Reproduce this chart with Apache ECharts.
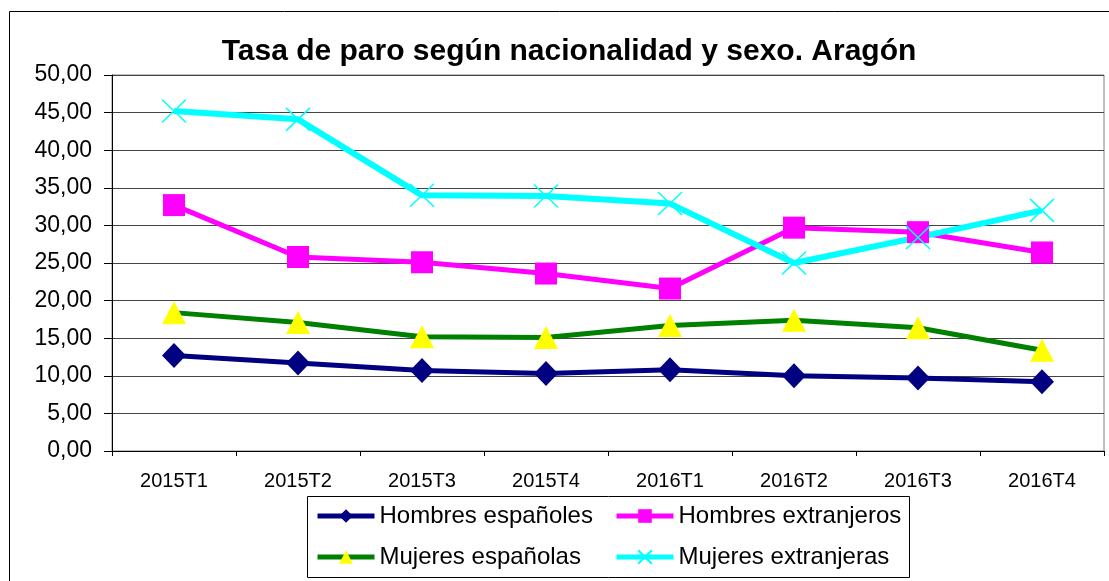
<!DOCTYPE html>
<html>
<head>
<meta charset="utf-8">
<script src="https://cdn.jsdelivr.net/npm/echarts@6/dist/echarts.min.js"></script>
<style>
html,body{margin:0;padding:0;background:#fff;}
#chart{width:1109px;height:581px;}
</style>
</head>
<body>
<div id="chart"></div>
<script>
const titleText = 'Tasa de paro según nacionalidad y sexo. Aragón';
const categories = ['2015T1','2015T2','2015T3','2015T4','2016T1','2016T2','2016T3','2016T4'];
const seriesNames = ['Hombres españoles','Hombres extranjeros','Mujeres españolas','Mujeres extranjeras'];
const hombresEspanoles = [12.7, 11.7, 10.7, 10.3, 10.8, 10.0, 9.7, 9.2];
const hombresExtranjeros = [32.7, 25.8, 25.1, 23.6, 21.6, 29.7, 29.1, 26.4];
const mujeresEspanolas = [18.4, 17.1, 15.2, 15.1, 16.7, 17.4, 16.4, 13.4];
const mujeresExtranjeras = [45.2, 44.1, 34.0, 33.9, 32.9, 25.0, 28.4, 32.0];
const yMin = 0, yMax = 50, yStep = 5;

const FONT = "'Liberation Sans', Arial, sans-serif";
const crossPath = 'path://M0,0L10,10M10,0L0,10';

const chart = echarts.init(document.getElementById('chart'), null, {renderer: 'canvas'});

function legendAt(name, left, top) {
  return {
    data: [name], left: left, top: top, padding: 0,
    itemWidth: 57, itemHeight: 17, itemGap: 0,
    lineStyle: {width: 5},
    textStyle: {fontFamily: FONT, fontSize: 24, color: '#000'}
  };
}

const option = {
  backgroundColor: '#fff',
  animation: false,
  title: {
    text: titleText, left: 564, top: 32, textAlign: 'center',
    textStyle: {fontFamily: FONT, fontSize: 30, fontWeight: 'bold', color: '#000'}
  },
  graphic: [
    {type: 'rect', shape: {x: 9.5, y: 11.5, width: 1120, height: 600}, style: {fill: 'none', stroke: '#000', lineWidth: 1}, z: -1},
    {type: 'rect', shape: {x: 307.5, y: 496.5, width: 602, height: 81}, style: {fill: '#fff', stroke: '#000', lineWidth: 1}, z: 0}
  ],
  legend: [
    legendAt(seriesNames[0], 315, 504),
    legendAt(seriesNames[1], 614, 504),
    legendAt(seriesNames[2], 315, 545),
    legendAt(seriesNames[3], 614, 545)
  ],
  grid: {left: 112, top: 75, width: 992, height: 376, show: true, borderColor: '#808080', borderWidth: 1, backgroundColor: '#fff'},
  xAxis: {
    type: 'category', data: categories, boundaryGap: true,
    axisLine: {lineStyle: {color: '#000', width: 1}},
    axisTick: {show: true, length: 5, lineStyle: {color: '#000'}},
    axisLabel: {fontFamily: FONT, fontSize: 20, color: '#000', margin: 20}
  },
  yAxis: {
    type: 'value', min: yMin, max: yMax, interval: yStep,
    axisLine: {show: true, lineStyle: {color: '#000', width: 1}},
    axisTick: {show: true, length: 8, lineStyle: {color: '#000'}},
    splitLine: {lineStyle: {color: '#444', width: 1}},
    axisLabel: {fontFamily: FONT, fontSize: 23, color: '#000', margin: 20,
      formatter: v => v.toFixed(2).replace('.', ',')}
  },
  series: [
    {name: seriesNames[0], type: 'line', data: hombresEspanoles, symbol: 'diamond', symbolSize: [24, 25],
      lineStyle: {color: '#000080', width: 5}, itemStyle: {color: '#000080'}},
    {name: seriesNames[1], type: 'line', data: hombresExtranjeros, symbol: 'rect', symbolSize: 22,
      lineStyle: {color: '#FF00FF', width: 5}, itemStyle: {color: '#FF00FF'}},
    {name: seriesNames[2], type: 'line', data: mujeresEspanolas, symbol: 'triangle', symbolSize: [24, 23],
      lineStyle: {color: '#008000', width: 5}, itemStyle: {color: '#FFFF00'}},
    {name: seriesNames[3], type: 'line', data: mujeresExtranjeras, symbol: crossPath, symbolSize: [24, 23],
      lineStyle: {color: '#00FFFF', width: 6}, itemStyle: {color: '#00FFFF', borderColor: '#00FFFF', borderWidth: 1.5}}
  ]
};
chart.setOption(option);
</script>
</body>
</html>
